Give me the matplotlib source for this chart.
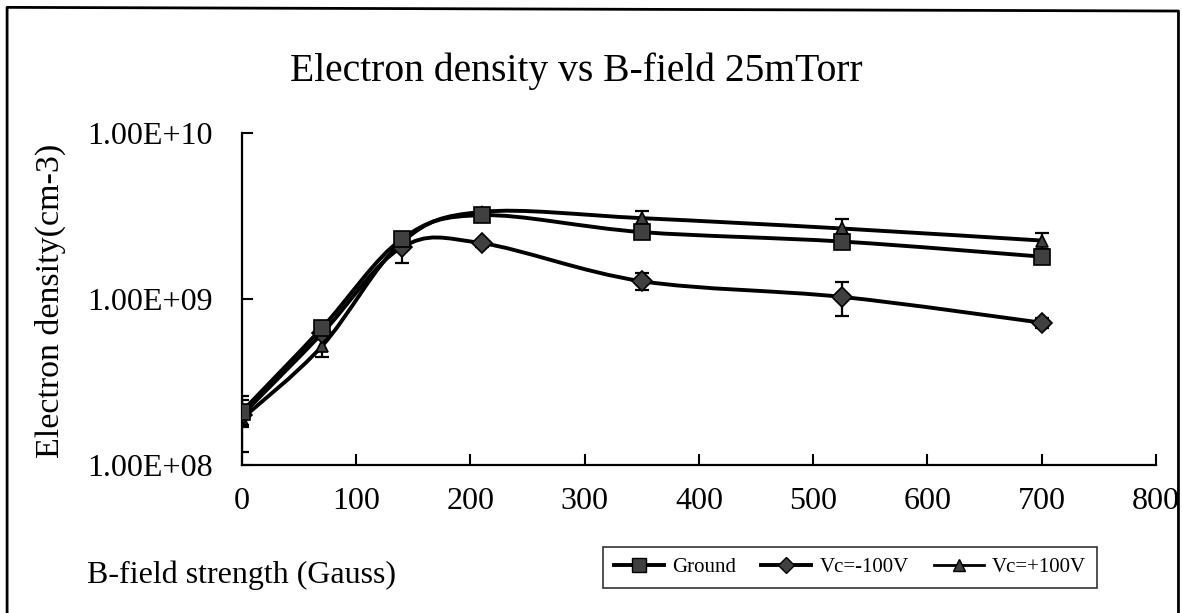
import numpy as np
import matplotlib
matplotlib.use("Agg")
import matplotlib.pyplot as plt
from matplotlib.path import Path
from matplotlib.patches import PathPatch
from matplotlib.lines import Line2D
from matplotlib.ticker import FixedLocator, FuncFormatter, NullLocator

# Data
bfield = [0, 70, 140, 210, 350, 525, 700]

ground = [2.1e8, 6.7e8, 2.3e9, 3.2e9, 2.53e9, 2.22e9, 1.8e9]
ground_err = [0.35e8, 0.4e8, 0.15e9, 0.15e9, 0.15e9, 0.15e9, 0.1e9]

vc_neg = [2.0e8, 6.2e8, 2.05e9, 2.17e9, 1.28e9, 1.03e9, 7.2e8]
vc_neg_err = [0.3e8, 0.4e8, 0.4e9, 0.1e9, 0.15e9, 0.24e9, 0.05e9]

vc_pos = [1.9e8, 5.2e8, 2.2e9, 3.35e9, 3.07e9, 2.66e9, 2.25e9]
vc_pos_err = [0.7e8, 0.7e8, 0.2e9, 0.2e9, 0.33e9, 0.39e9, 0.25e9]

series_labels = ["Ground", "Vc=-100V", "Vc=+100V"]
y_ticks = [1e8, 1e9, 1e10]
x_ticks = [0, 100, 200, 300, 400, 500, 600, 700, 800]

plt.rcParams["font.family"] = ["Liberation Serif", "DejaVu Serif"]


def smooth_path(x, y):
    # Excel-style smoothed line: cubic Bezier through the points (in log-y space)
    lx = np.asarray(x, float)
    ly = np.log10(np.asarray(y, float))
    n = len(lx)
    verts = [(lx[0], ly[0])]
    codes = [Path.MOVETO]
    for i in range(n - 1):
        a = i - 1 if i > 0 else i
        d = i + 2 if i + 2 < n else i + 1
        c1 = (lx[i] + (lx[i + 1] - lx[a]) / 6, ly[i] + (ly[i + 1] - ly[a]) / 6)
        c2 = (lx[i + 1] - (lx[d] - lx[i]) / 6, ly[i + 1] - (ly[d] - ly[i]) / 6)
        verts += [c1, c2, (lx[i + 1], ly[i + 1])]
        codes += [Path.CURVE4] * 3
    verts = [(vx, 10 ** vy) for vx, vy in verts]
    return Path(verts, codes)


def draw_series(ax, y, err, marker, ms, z):
    ax.add_patch(PathPatch(smooth_path(bfield, y), fill=False, lw=2.8,
                           ec="black", zorder=z, capstyle="round"))
    ax.errorbar(bfield, y, yerr=err, fmt="none", ecolor="black",
                elinewidth=1.6, capsize=5, capthick=1.6, zorder=z + 0.1)
    ax.plot(bfield, y, ls="none", marker=marker, ms=ms, mfc="#404040",
            mec="black", mew=1.2, zorder=z + 0.2)


fig = plt.figure(figsize=(11.82, 6.13), dpi=100)
ax = fig.add_axes([0.2047, 0.2414, 0.7733, 0.5416])

draw_series(ax, vc_pos, vc_pos_err, "^", 8, 3)
draw_series(ax, vc_neg, vc_neg_err, "D", 10, 4)
draw_series(ax, ground, ground_err, "s", 12, 5)

ax.set_yscale("log")
ax.set_xlim(0, 800)
ax.set_ylim(1e8, 1e10)
ax.yaxis.set_major_locator(FixedLocator(y_ticks))
ax.yaxis.set_minor_locator(NullLocator())
ax.yaxis.set_major_formatter(FuncFormatter(
    lambda v, p: "%.2fE+%02d" % (v / 10 ** int(round(np.log10(v))), int(round(np.log10(v))))))
ax.set_xticks(x_ticks)

for side in ["top", "right"]:
    ax.spines[side].set_visible(False)
for side in ["left", "bottom"]:
    ax.spines[side].set_linewidth(1.6)

ax.tick_params(axis="both", direction="in", length=8, width=1.5,
               labelsize=23, colors="black")
ax.tick_params(axis="y", pad=21)
ax.tick_params(axis="x", pad=16)

# Titles and labels placed in figure coordinates like the original sheet
fig.text(290 / 1182, 1 - 71 / 613, "Electron density vs B-field 25mTorr",
         fontsize=28.5, ha="left", va="center")
fig.text(50 / 1182, 1 - 301 / 613, "Electron density(cm-3)", fontsize=24.5,
         rotation=90, ha="center", va="center")
fig.text(87 / 1182, 1 - 583 / 613, "B-field strength (Gauss)", fontsize=23,
         ha="left", va="baseline")

handles = [
    Line2D([], [], color="black", lw=2.8, marker="s", ms=10, mfc="#404040", mec="black"),
    Line2D([], [], color="black", lw=2.8, marker="D", ms=8, mfc="#404040", mec="black"),
    Line2D([], [], color="black", lw=2.0, marker="^", ms=8, mfc="#404040", mec="black"),
]
leg = fig.legend(handles, series_labels, loc="lower right",
                 bbox_to_anchor=(1107 / 1182, 1 - 598 / 613), ncol=3,
                 fontsize=15, frameon=True, fancybox=False, handlelength=2.4,
                 columnspacing=1.2, handletextpad=0.4, borderpad=0.5)
leg.get_frame().set_edgecolor("black")
leg.get_frame().set_linewidth(1.2)

# Outer border of the pasted chart (left, top and right edges only)
fig.add_artist(Line2D([0.006, 0.006, 0.997, 0.997], [0.0, 0.988, 0.982, 0.0],
                      transform=fig.transFigure, color="black", lw=2.0))

fig.savefig("out.png", dpi=100)
